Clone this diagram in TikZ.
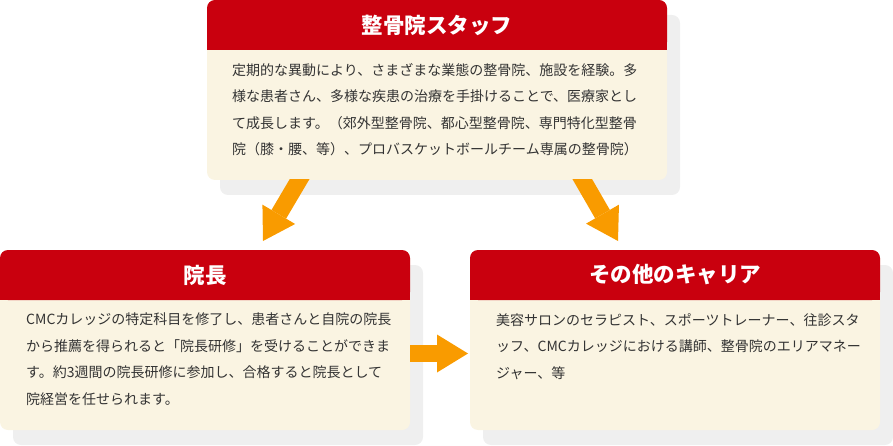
\documentclass[tikz,border=0pt]{standalone}
\usepackage{fontspec}
\setmainfont{Noto Sans CJK JP}
\usepackage{xcolor}
\usetikzlibrary{arrows.meta, positioning, shadows}
\definecolor{headRed}{HTML}{C9000E}
\definecolor{cardCream}{HTML}{FAF4E2}
\definecolor{shadowGray}{HTML}{EFEFEF}
\definecolor{arrOrange}{HTML}{F99B00}
\definecolor{bodyGray}{HTML}{333333}

\begin{document}
\begin{tikzpicture}[x=1pt, y=1pt,
    card/.style={rectangle, rounded corners=8pt, fill=cardCream, minimum height=180pt, inner sep=0pt, outer sep=0pt,
      drop shadow={shadow xshift=13pt, shadow yshift=-15pt, fill=shadowGray, opacity=1}},
    cardhead/.style={rectangle, rounded corners=8pt, fill=headRed, minimum height=50pt, inner sep=0pt, outer sep=0pt,
      font=\fontsize{21.5}{24}\selectfont\bfseries, text=white, anchor=north},
    cardtext/.style={anchor=north west, inner sep=0pt, align=left, text=bodyGray,
      font=\fontsize{14}{26.5}\selectfont},
    bigarr/.style={-{Triangle[length=31pt, width=38pt, line width=0pt]}, line width=17pt, draw=arrOrange}
  ]
  \useasboundingbox (0,0) rectangle (893,-446);

  \node[card, minimum width=460pt] (staff) at (437,-90) {};
  \node[card, minimum width=410pt] (incho) at (205,-340) {};
  \node[card, minimum width=410pt] (career) at (675,-340) {};

  \node[cardhead, minimum width=460pt] (staffhead) at (staff.north) {整骨院スタッフ};
  \node[cardhead, minimum width=410pt] (inchohead) at (incho.north) {院長};
  \node[cardhead, minimum width=410pt] (careerhead) at (career.north) {その他のキャリア};
  \foreach \h in {staffhead, inchohead, careerhead}
    \fill[headRed] ([yshift=10pt]\h.south west) rectangle (\h.south east);

  \node[cardtext] (stafftext) at ([shift={(25pt,-63pt)}]staff.north west)
    {定期的な異動により、さまざまな業態の整骨院、施設を経験。多\\
     様な患者さん、多様な疾患の治療を手掛けることで、医療家とし\\
     て成長します。（郊外型整骨院、都心型整骨院、専門特化型整骨\\
     院（膝・腰、等）、プロバスケットボールチーム専属の整骨院）};
  \node[cardtext] (inchotext) at ([shift={(26pt,-63pt)}]incho.north west)
    {CMCカレッジの特定科目を修了し、患者さんと自院の院長\\
     から推薦を得られると「院長研修」を受けることができま\\
     す。約3週間の院長研修に参加し、合格すると院長として\\
     院経営を任せられます。};
  \node[cardtext] (careertext) at ([shift={(26pt,-63pt)}]career.north west)
    {美容サロンのセラピスト、スポーツトレーナー、往診スタ\\
     ッフ、CMCカレッジにおける講師、整骨院のエリアマネー\\
     ジャー、等};

  \begin{scope}
    \clip (staff.south -| incho.west) rectangle (career.south east);
    \draw[bigarr] ([shift={(-132pt,10pt)}]staff.south) -- ([shift={(58pt,9pt)}]incho.north);
    \draw[bigarr] ([shift={(140pt,10pt)}]staff.south) -- ([shift={(-57pt,9pt)}]career.north);
  \end{scope}
  \draw[bigarr] ([yshift=-13.5pt]incho.east) -- ([xshift=-2pt, yshift=-13.5pt]career.west);
\end{tikzpicture}
\end{document}
